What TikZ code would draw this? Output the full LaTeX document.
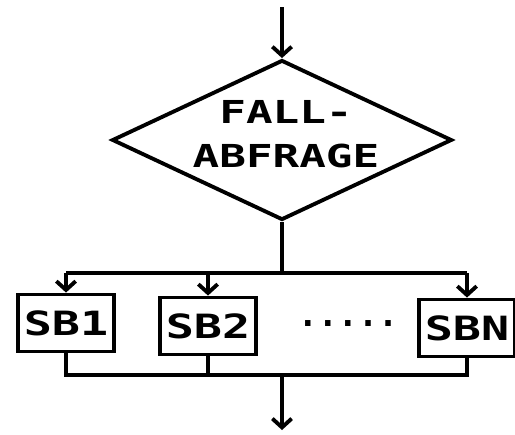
\documentclass[tikz,border=0pt]{standalone}
\usepackage{fontspec}
\newfontfamily\pixfont[FakeStretch=1.4]{DejaVu Sans Mono}
\newfontfamily\dotfont{DejaVu Sans Mono}
\usetikzlibrary{
	arrows.meta,
	shapes.geometric,
	positioning
}

\begin{document}
\begin{tikzpicture}[x=0.02cm,y=-0.02cm,
		line/.style={line width=2.2pt},
		flow/.style={line width=2.2pt,-{Straight Barb[length=5pt,width=11pt]}},
		decision/.style={diamond,draw,line width=2.2pt,inner sep=0pt,
			minimum width=6.8cm,minimum height=3.2cm},
		sbbox/.style={rectangle,draw,line width=2.2pt,inner sep=0pt,
			minimum width=1.92cm,minimum height=1.14cm,
			font=\pixfont\bfseries\fontsize{19}{20}\selectfont}]
		\useasboundingbox (0,0) rectangle (515,434);
		
		% Verzweigung
		\node[decision] (fall) at (282,140) {};
		\node[align=center,inner sep=0pt,font=\pixfont\bfseries\fontsize{18}{25}\selectfont]
			(falltext) at (286,134) {FALL-\\ABFRAGE};
		
		% Strukturbloecke
		\node[sbbox] (sb1) at (66,323) {SB1};
		\node[sbbox] (sb2) at (208,326) {SB2};
		\node[sbbox] (sbn) at (467,328) {SBN};
		\node[font=\dotfont\bfseries\fontsize{19}{20}\selectfont] (dots) at (348,324) {.....};
		
		% Hilfspunkte
		\coordinate (in) at (282,7);
		\coordinate (split) at (282,273);
		\coordinate (join) at (282,375);
		\coordinate (out) at (282,430);
		
		% Verbindungen
		\draw[flow] (in) -- (fall);
		\draw[line] (fall) -- (split);
		\draw[line] (split -| sb1) -- (split -| sbn);
		\foreach \b in {sb1,sb2,sbn}
		\draw[flow] (split -| \b) -- (\b);
		\draw[line] (sb1) -- (sb1 |- join) -- (sbn |- join) -- (sbn);
		\draw[line] (sb2) -- (sb2 |- join);
		\draw[flow] (join) -- (out);
	\end{tikzpicture}
\end{document}
